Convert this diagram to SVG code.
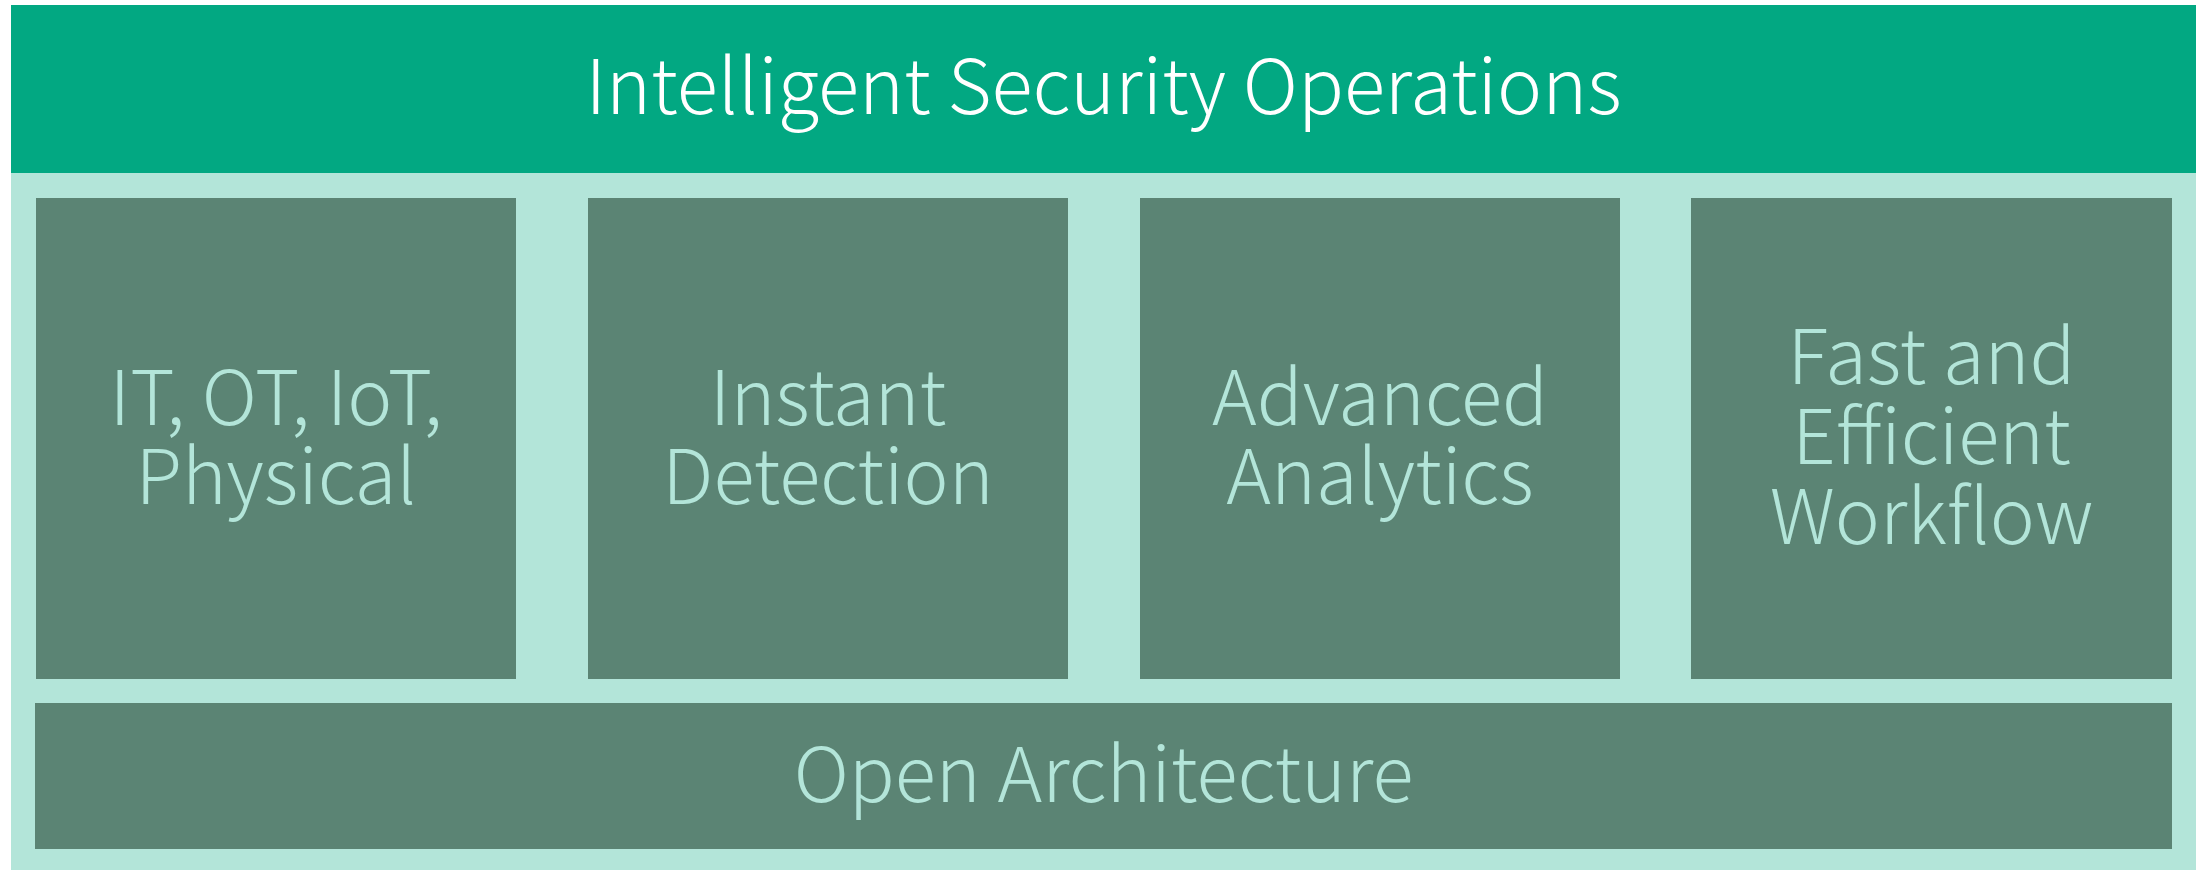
<svg xmlns="http://www.w3.org/2000/svg" width="2206" height="870" viewBox="0 0 2206 870">
<style>
.bg{fill:#B3E5D9}
.top{fill:#02A882}
.box{fill:#5B8474}
.t{font-family:"Noto Sans CJK KR","Lato",sans-serif;font-weight:300;text-anchor:middle}
.title{fill:#FFFFFF;font-size:76px}
.lbl{fill:#B3E5D9;font-size:76px}
</style>
<rect width="2206" height="870" fill="#FFFFFF"/>
<rect class="bg" x="11" y="5" width="2185" height="865"/>
<g id="title">
<rect class="top" x="11" y="5" width="2185" height="168"/>
<text class="t title" x="1103.5" y="114">Intelligent Security Operations</text>
</g>
<g id="box1">
<rect class="box" x="36" y="198" width="480" height="481"/>
<text class="t lbl" x="276" y="425">IT, OT, IoT,</text>
<text class="t lbl" x="276" y="504">Physical</text>
</g>
<g id="box2">
<rect class="box" x="588" y="198" width="480" height="481"/>
<text class="t lbl" x="828" y="425">Instant</text>
<text class="t lbl" x="828" y="504">Detection</text>
</g>
<g id="box3">
<rect class="box" x="1140" y="198" width="480" height="481"/>
<text class="t lbl" x="1380" y="425">Advanced</text>
<text class="t lbl" x="1380" y="504">Analytics</text>
</g>
<g id="box4">
<rect class="box" x="1691" y="198" width="481" height="481"/>
<text class="t lbl" x="1931.5" y="384">Fast and</text>
<text class="t lbl" x="1931.5" y="464">Efficient</text>
<text class="t lbl" x="1931.5" y="544">Workflow</text>
</g>
<g id="open-architecture">
<rect class="box" x="35" y="703" width="2137" height="146"/>
<text class="t lbl" x="1103.5" y="802">Open Architecture</text>
</g>
<g id="connectors"></g>
</svg>
